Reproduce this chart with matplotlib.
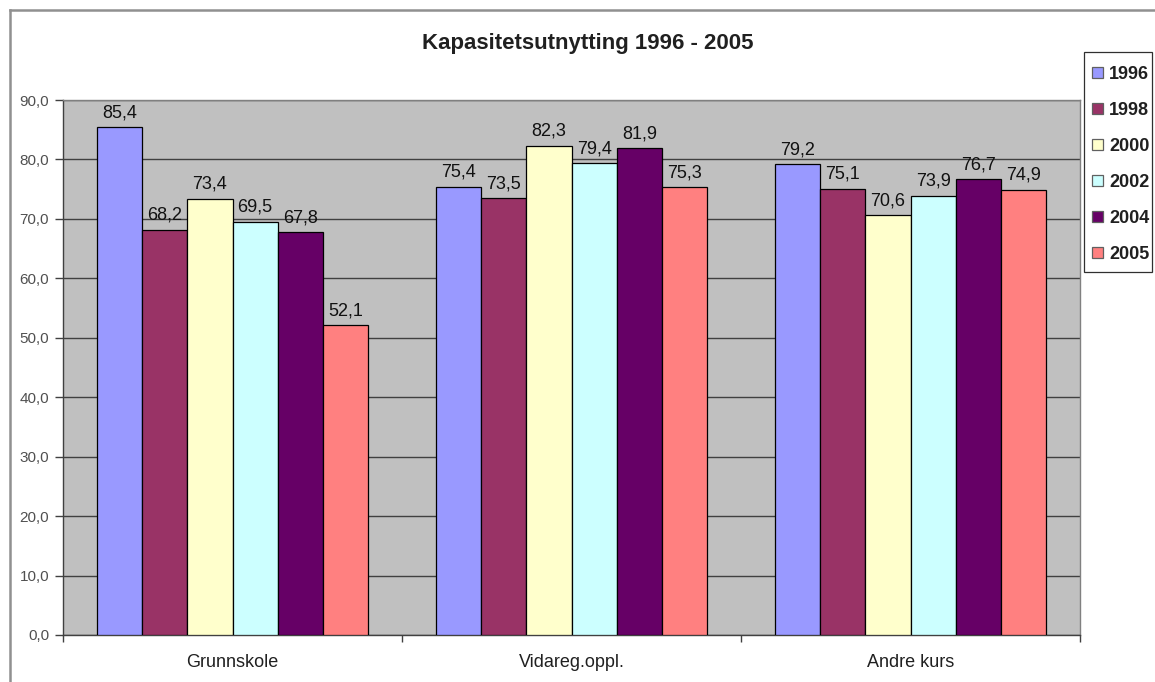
import matplotlib
matplotlib.use("Agg")
import matplotlib.pyplot as plt
import numpy as np
from matplotlib.lines import Line2D
from matplotlib.patches import Rectangle

categories = ["Grunnskole", "Vidareg.oppl.", "Andre kurs"]
years = ["1996", "1998", "2000", "2002", "2004", "2005"]
values = {
    "1996": [85.4, 75.4, 79.2],
    "1998": [68.2, 73.5, 75.1],
    "2000": [73.4, 82.3, 70.6],
    "2002": [69.5, 79.4, 73.9],
    "2004": [67.8, 81.9, 76.7],
    "2005": [52.1, 75.3, 74.9],
}
colors = ["#9999FF", "#993366", "#FFFFCC", "#CCFFFF", "#660066", "#FF8080"]
title = "Kapasitetsutnytting 1996 - 2005"
yticks = np.arange(0, 91, 10)

plt.rcParams['font.family'] = ['Liberation Sans', 'DejaVu Sans']

W, H = 1155, 682
fig = plt.figure(figsize=(W / 100, H / 100), dpi=100)

def fx(px):
    return px / W

def fy(py):
    return 1 - py / H

# outer chart border (left and top visible)
fig.add_artist(Line2D([fx(9.5), fx(9.5)], [fy(10), fy(700)], color="#909090", lw=1.8))
fig.add_artist(Line2D([fx(9.5), fx(1160)], [fy(10), fy(10)], color="#909090", lw=1.8))

ax = fig.add_axes([fx(63), fy(635), fx(1080) - fx(63), fy(100) - fy(635)])
ax.set_facecolor("#C0C0C0")

n = len(years)
bw = 1 / 7.5
x = np.arange(len(categories))
for i, (yr, c) in enumerate(zip(years, colors)):
    pos = x + (i - (n - 1) / 2) * bw
    ax.bar(pos, values[yr], width=bw, color=c, edgecolor="black", linewidth=0.9, zorder=3, label=yr)
    for xi, v in zip(pos, values[yr]):
        ax.text(xi, v + 1.0, f"{v:.1f}".replace(".", ","), ha="center", va="bottom",
                fontsize=13, color="#111111", zorder=4)

ax.set_xlim(-0.5, len(categories) - 0.5)
ax.set_ylim(0, 90)
ax.set_yticks(yticks)
ax.set_yticklabels([f"{v:.1f}".replace(".", ",") for v in yticks], fontsize=11, color="#505050")
ax.yaxis.grid(True, color="#404040", lw=1, zorder=1)
ax.set_axisbelow(True)
ax.tick_params(axis="y", length=6, width=1, color="#404040", pad=4)

ax.set_xticks(x)
ax.set_xticklabels(categories, fontsize=13, color="#202020")
ax.tick_params(axis="x", length=0, pad=14)
# category boundary ticks
ax.set_xticks(np.arange(len(categories) + 1) - 0.5, minor=True)
ax.tick_params(axis="x", which="minor", length=5, width=1, color="#404040")

for s in ["top", "right"]:
    ax.spines[s].set_color("#808080")
    ax.spines[s].set_linewidth(1)
for s in ["left", "bottom"]:
    ax.spines[s].set_color("#404040")
    ax.spines[s].set_linewidth(1)

fig.text(fx(588), fy(44), title, ha="center", va="center", fontsize=16, fontweight="bold", color="#202020")

# legend frame
fig.add_artist(Rectangle((fx(1084), fy(272)), fx(1152) - fx(1084), fy(52) - fy(272),
                         transform=fig.transFigure, fill=False, edgecolor="#303030", lw=0.9))

handles, labels = ax.get_legend_handles_labels()
leg = fig.legend(handles, labels, loc="upper left", bbox_to_anchor=(fx(1092), fy(66)),
                 frameon=False, fontsize=13,
                 handlelength=0.6, handleheight=0.6, handletextpad=0.35,
                 labelspacing=1.05, borderpad=0, borderaxespad=0)
for t in leg.get_texts():
    t.set_fontweight("bold")
    t.set_color("#202020")
for p in leg.get_patches():
    p.set_edgecolor("#606060")

fig.savefig("out.png", dpi=100)
